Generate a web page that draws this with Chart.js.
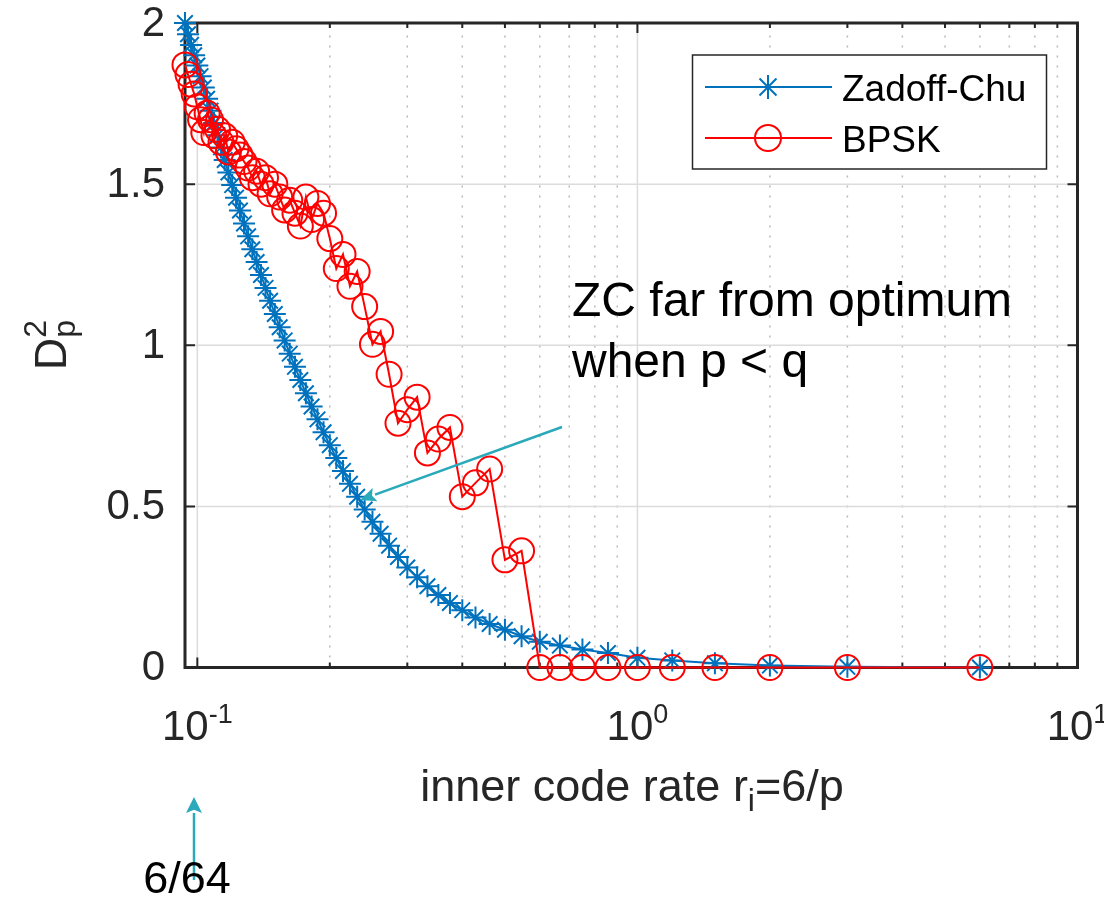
<!DOCTYPE html>
<html>
<head>
<meta charset="utf-8">
<script src="https://cdn.jsdelivr.net/npm/chart.js@4.4.1/dist/chart.umd.min.js"></script>
<style>
  html, body { margin: 0; padding: 0; background: #ffffff; }
  #wrap { width: 1104px; height: 897px; position: relative; }
</style>
</head>
<body>
<div id="wrap"><canvas id="chart" width="1104" height="897"></canvas></div>
<script>
// Parameter p (inner code rate r_i = 6/p)
const pValues = [
  1, 2, 3, 4, 5, 6, 7, 8, 9, 10,
  11, 12, 13, 14, 15, 16, 17, 18, 19, 20,
  21, 22, 23, 24, 25, 26, 27, 28, 29, 30,
  31, 32, 33, 34, 35, 36, 37, 38, 39, 40,
  41, 42, 43, 44, 45, 46, 47, 48, 49, 50,
  51, 52, 53, 54, 55, 56, 57, 58, 59, 60,
  61, 62, 63, 64
];

// D_p^2 for Zadoff-Chu sequences, one value per p
const zadoffChu = [
  0, 0.002, 0.006, 0.013, 0.022, 0.03, 0.045, 0.056, 0.068, 0.08,
  0.097, 0.117, 0.135, 0.155, 0.178, 0.2, 0.225, 0.252, 0.28, 0.31,
  0.343, 0.378, 0.415, 0.452, 0.49, 0.53, 0.57, 0.61, 0.65, 0.69,
  0.73, 0.77, 0.81, 0.851, 0.892, 0.933, 0.974, 1.015, 1.056, 1.097,
  1.138, 1.178, 1.218, 1.258, 1.298, 1.338, 1.378, 1.418, 1.458, 1.497,
  1.536, 1.575, 1.614, 1.652, 1.69, 1.728, 1.765, 1.8, 1.835, 1.868,
  1.9, 1.932, 1.965, 2.0
];

// D_p^2 for BPSK sequences, one value per p
const bpsk = [
  0, 0, 0, 0, 0, 0, 0, 0, 0, 0,
  0.362, 0.334, 0.616, 0.573, 0.53, 0.745, 0.709, 0.666, 0.839, 0.8,
  0.758, 0.91, 1.043, 1.003, 1.12, 1.229, 1.183, 1.282, 1.238, 1.331,
  1.41, 1.44, 1.39, 1.46, 1.37, 1.41, 1.45, 1.42, 1.46, 1.5,
  1.47, 1.52, 1.5, 1.54, 1.52, 1.55, 1.57, 1.59, 1.61, 1.63,
  1.6, 1.65, 1.63, 1.67, 1.65, 1.7, 1.72, 1.66, 1.7, 1.74,
  1.78, 1.81, 1.84, 1.87
];

const yTicks = [0, 0.5, 1, 1.5, 2];
const yTickLabels = ['0', '0.5', '1', '1.5', '2'];
const xMajorTicks = [0.1, 1, 10];
const xMajorExponents = ['-1', '0', '1'];
const xMinorTicks = [0.2, 0.3, 0.4, 0.5, 0.6, 0.7, 0.8, 0.9, 2, 3, 4, 5, 6, 7, 8, 9];
const seriesNames = ['Zadoff-Chu', 'BPSK'];

const FONT = '"Liberation Sans", Arial, Helvetica, sans-serif';
const AXIS_COLOR = '#262626';
const ZC_COLOR = '#0072BD';
const BPSK_COLOR = '#FF0000';
const NOTE_COLOR = '#29A9B9';

const rate = pValues.map(p => 6 / p);
const zcPoints = rate.map((r, i) => ({ x: r, y: zadoffChu[i] }));
const bpskPoints = rate.map((r, i) => ({ x: r, y: bpsk[i] }));

// text runs made of normal / superscript / subscript pieces
function measureParts(ctx, parts) {
  let w = 0;
  parts.forEach(pt => {
    ctx.font = pt.size + 'px ' + FONT;
    pt.w = ctx.measureText(pt.t).width;
    if (!pt.stack) w += pt.w;
  });
  return w;
}
function drawParts(ctx, x, y, parts, color) {
  let cx = x;
  ctx.fillStyle = color;
  ctx.textBaseline = 'alphabetic';
  ctx.textAlign = 'left';
  parts.forEach(pt => {
    ctx.font = pt.size + 'px ' + FONT;
    ctx.fillText(pt.t, cx, y + (pt.dy || 0));
    if (!pt.stack) cx += pt.w;
  });
}

function drawStar(ctx, x, y, r) {
  const d = r * Math.SQRT1_2;
  ctx.beginPath();
  ctx.moveTo(x, y - r); ctx.lineTo(x, y + r);
  ctx.moveTo(x - r, y); ctx.lineTo(x + r, y);
  ctx.moveTo(x - d, y - d); ctx.lineTo(x + d, y + d);
  ctx.moveTo(x - d, y + d); ctx.lineTo(x + d, y - d);
  ctx.stroke();
}

function drawArrow(ctx, x1, y1, x2, y2, headLen, headHalf) {
  const ang = Math.atan2(y2 - y1, x2 - x1);
  const bx = x2 - headLen * Math.cos(ang), by = y2 - headLen * Math.sin(ang);
  ctx.beginPath();
  ctx.moveTo(x1, y1); ctx.lineTo(bx, by);
  ctx.stroke();
  const nx = -Math.sin(ang), ny = Math.cos(ang);
  ctx.beginPath();
  ctx.moveTo(x2, y2);
  ctx.lineTo(bx + nx * headHalf, by + ny * headHalf);
  ctx.lineTo(bx + (x2 - bx) * 0.2, by + (y2 - by) * 0.2);
  ctx.lineTo(bx - nx * headHalf, by - ny * headHalf);
  ctx.closePath();
  ctx.fill();
}

// grid, box and tick marks behind the data; labels, legend and notes on top
const axesFrame = {
  id: 'axesFrame',
  beforeDatasetsDraw(chart) {
    const { ctx, chartArea: a, scales: { x, y } } = chart;
    ctx.save();
    // dotted minor grid on the log axis
    ctx.strokeStyle = '#b8b8b8';
    ctx.lineWidth = 1.5;
    ctx.setLineDash([2, 8]);
    xMinorTicks.forEach(v => {
      const px = x.getPixelForValue(v);
      ctx.beginPath(); ctx.moveTo(px, a.bottom); ctx.lineTo(px, a.top); ctx.stroke();
    });
    ctx.setLineDash([]);
    // solid major grid
    ctx.strokeStyle = '#dcdcdc';
    ctx.lineWidth = 1.5;
    xMajorTicks.forEach(v => {
      const px = x.getPixelForValue(v);
      ctx.beginPath(); ctx.moveTo(px, a.bottom); ctx.lineTo(px, a.top); ctx.stroke();
    });
    yTicks.forEach(v => {
      const py = y.getPixelForValue(v);
      ctx.beginPath(); ctx.moveTo(a.left, py); ctx.lineTo(a.right, py); ctx.stroke();
    });
    // box
    ctx.strokeStyle = AXIS_COLOR;
    ctx.lineWidth = 3;
    ctx.strokeRect(a.left, a.top, a.right - a.left, a.bottom - a.top);
    // inward tick marks
    ctx.lineWidth = 2;
    const tick = (px, len) => {
      ctx.beginPath();
      ctx.moveTo(px, a.bottom); ctx.lineTo(px, a.bottom - len);
      ctx.moveTo(px, a.top); ctx.lineTo(px, a.top + len);
      ctx.stroke();
    };
    xMajorTicks.forEach(v => tick(x.getPixelForValue(v), 10));
    xMinorTicks.forEach(v => tick(x.getPixelForValue(v), 5));
    yTicks.forEach(v => {
      const py = y.getPixelForValue(v);
      ctx.beginPath();
      ctx.moveTo(a.left, py); ctx.lineTo(a.left + 10, py);
      ctx.moveTo(a.right, py); ctx.lineTo(a.right - 10, py);
      ctx.stroke();
    });
    ctx.restore();
  },
  afterDraw(chart) {
    const { ctx, chartArea: a, scales: { x, y } } = chart;
    ctx.save();
    // y tick labels
    ctx.fillStyle = AXIS_COLOR;
    ctx.font = '42px ' + FONT;
    ctx.textAlign = 'right';
    ctx.textBaseline = 'middle';
    yTicks.forEach((v, i) => ctx.fillText(yTickLabels[i], a.left - 20, y.getPixelForValue(v) + 1));
    // x tick labels 10^n
    xMajorTicks.forEach((v, i) => {
      const parts = [
        { t: '10', size: 42, dy: 0 },
        { t: xMajorExponents[i], size: 27, dy: -17 }
      ];
      const w = measureParts(ctx, parts);
      drawParts(ctx, x.getPixelForValue(v) - w / 2, 740, parts, AXIS_COLOR);
    });
    // x axis title
    const xt = [
      { t: 'inner code rate r', size: 45, dy: 0 },
      { t: 'i', size: 32, dy: 10 },
      { t: '=6/p', size: 45, dy: 0 }
    ];
    const xw = measureParts(ctx, xt);
    drawParts(ctx, 632 - xw / 2, 801, xt, AXIS_COLOR);
    // y axis title D_p^2
    ctx.save();
    ctx.translate(66, 345);
    ctx.rotate(-Math.PI / 2);
    const yt = [
      { t: 'D', size: 45, dy: 0 },
      { t: 'p', size: 32, dy: 9, stack: true },
      { t: '2', size: 32, dy: -20 }
    ];
    const yw = measureParts(ctx, yt);
    drawParts(ctx, -yw / 2, 0, yt, AXIS_COLOR);
    ctx.restore();

    // legend
    const lx = 692.5, ly = 55, lw = 354, lh = 114;
    ctx.fillStyle = '#ffffff';
    ctx.fillRect(lx, ly, lw, lh);
    ctx.strokeStyle = AXIS_COLOR;
    ctx.lineWidth = 1.5;
    ctx.strokeRect(lx, ly, lw, lh);
    const rows = [
      { name: seriesNames[0], color: ZC_COLOR, y: 87, marker: 'star' },
      { name: seriesNames[1], color: BPSK_COLOR, y: 138, marker: 'circle' }
    ];
    rows.forEach(r => {
      ctx.strokeStyle = r.color;
      ctx.lineWidth = 2;
      ctx.beginPath(); ctx.moveTo(705, r.y); ctx.lineTo(832, r.y); ctx.stroke();
      if (r.marker === 'star') {
        drawStar(ctx, 768, r.y, 12);
      } else {
        ctx.beginPath(); ctx.arc(768, r.y, 13, 0, Math.PI * 2); ctx.stroke();
      }
      ctx.fillStyle = '#000000';
      ctx.font = '37px ' + FONT;
      ctx.textAlign = 'left';
      ctx.textBaseline = 'alphabetic';
      ctx.fillText(r.name, 842, r.y + 14);
    });

    // annotation arrow and note
    ctx.strokeStyle = NOTE_COLOR;
    ctx.fillStyle = NOTE_COLOR;
    ctx.lineWidth = 2.5;
    drawArrow(ctx, 562, 427, 360, 500, 16, 7);
    ctx.fillStyle = '#000000';
    ctx.font = '48px ' + FONT;
    ctx.textAlign = 'left';
    ctx.fillText('ZC far from optimum', 572, 316);
    ctx.fillText('when p < q', 572, 377);

    // pointer to the smallest rate 6/64
    ctx.strokeStyle = NOTE_COLOR;
    ctx.fillStyle = NOTE_COLOR;
    ctx.lineWidth = 2.5;
    drawArrow(ctx, 194, 880, 194, 797, 16, 8);
    ctx.fillStyle = '#000000';
    ctx.font = '45px ' + FONT;
    ctx.textAlign = 'center';
    ctx.fillText('6/64', 187, 893);
    ctx.restore();
  }
};

new Chart(document.getElementById('chart'), {
  type: 'line',
  data: {
    datasets: [
      {
        label: seriesNames[0],
        data: zcPoints,
        borderColor: ZC_COLOR,
        borderWidth: 2,
        pointStyle: 'star',
        pointRadius: 11,
        pointBorderWidth: 2,
        pointBorderColor: ZC_COLOR,
        pointBackgroundColor: 'rgba(0,0,0,0)',
        tension: 0,
        clip: false,
        order: 2
      },
      {
        label: seriesNames[1],
        data: bpskPoints,
        borderColor: BPSK_COLOR,
        borderWidth: 2,
        pointStyle: 'circle',
        pointRadius: 12.5,
        pointBorderWidth: 2,
        pointBorderColor: BPSK_COLOR,
        pointBackgroundColor: 'rgba(0,0,0,0)',
        tension: 0,
        clip: false,
        order: 1
      }
    ]
  },
  options: {
    responsive: false,
    animation: false,
    devicePixelRatio: 1,
    layout: { padding: { left: 0, top: 23, right: 26.5, bottom: 0 } },
    plugins: { legend: { display: false }, tooltip: { enabled: false } },
    scales: {
      x: {
        type: 'logarithmic',
        min: 6 / 64,
        max: 10,
        grid: { display: false, drawTicks: false },
        border: { display: false },
        ticks: { display: false },
        afterFit(scale) { scale.height = 897 - 667.5; }
      },
      y: {
        type: 'linear',
        min: 0,
        max: 2,
        grid: { display: false, drawTicks: false },
        border: { display: false },
        ticks: { display: false },
        afterFit(scale) { scale.width = 185; }
      }
    }
  },
  plugins: [axesFrame]
});
</script>
</body>
</html>
